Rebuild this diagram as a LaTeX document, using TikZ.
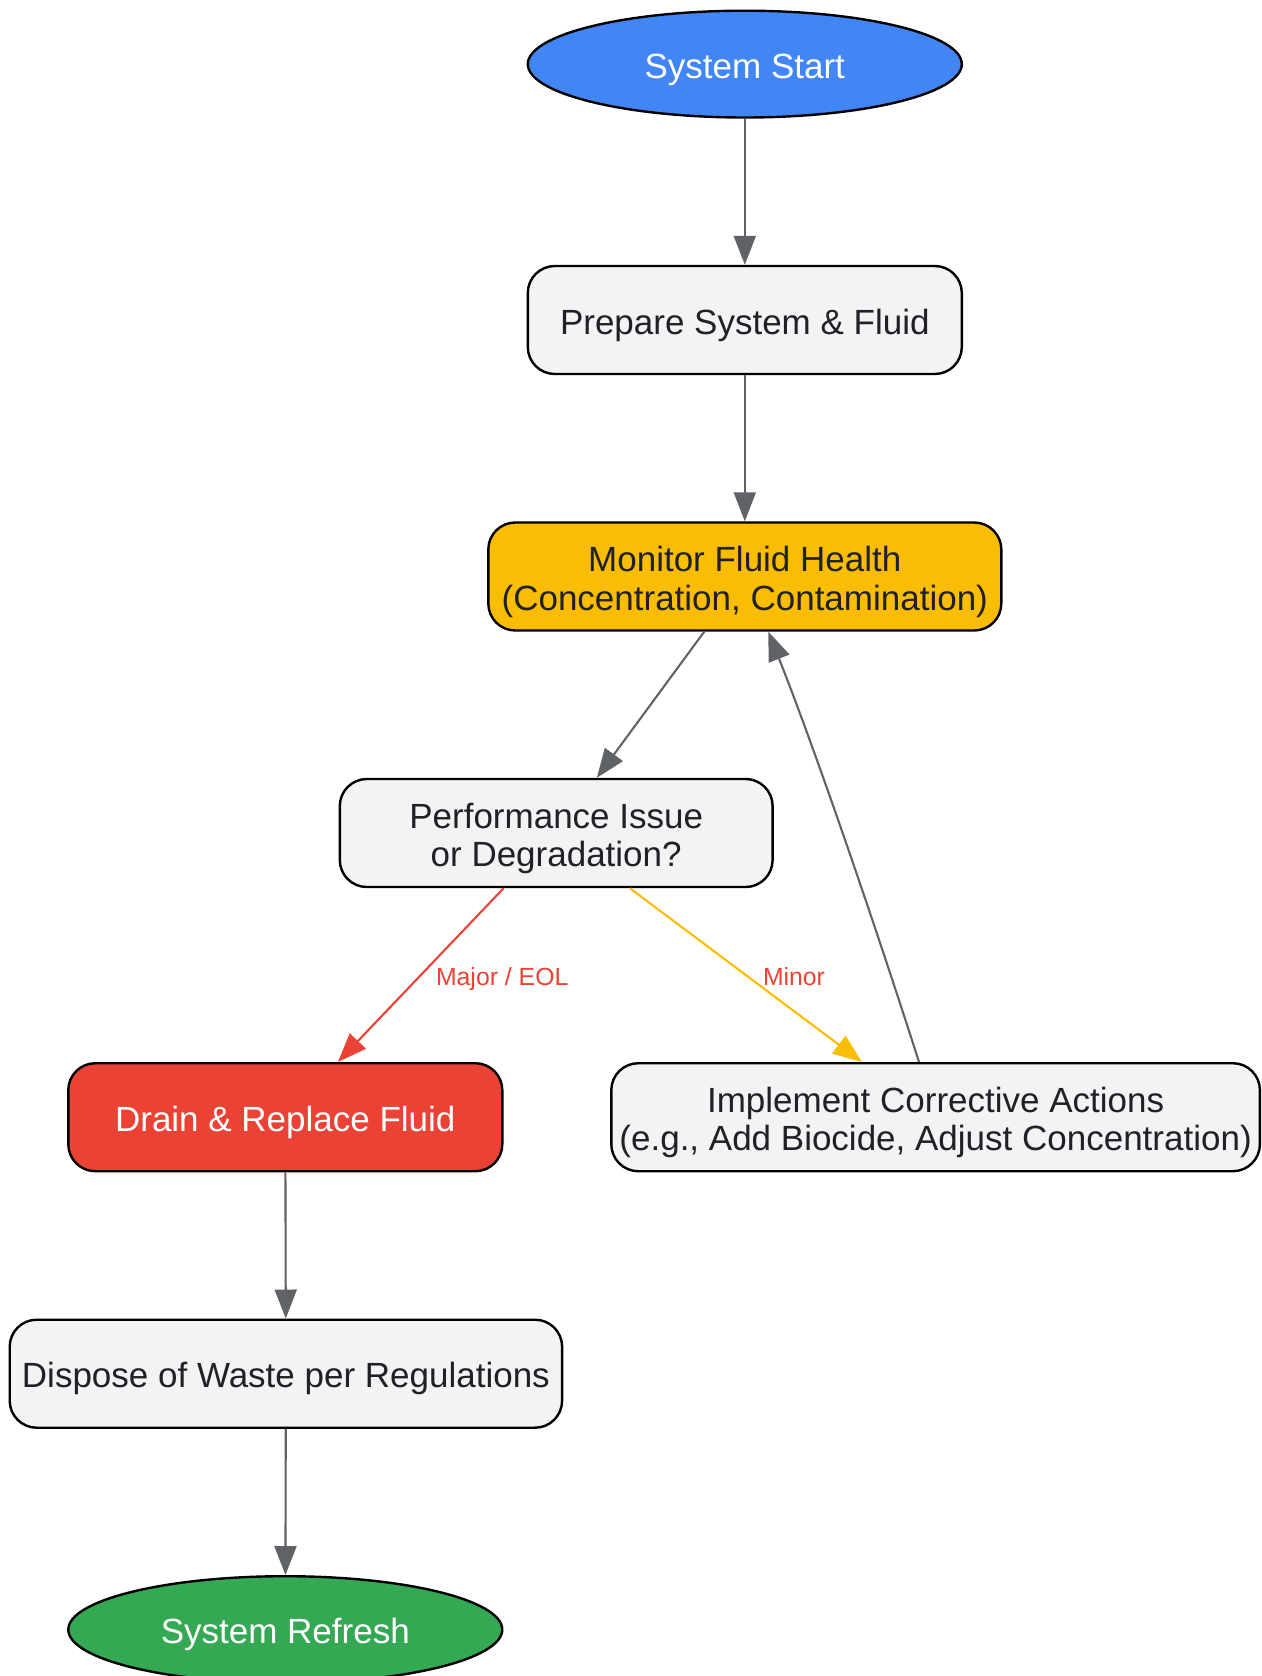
\documentclass[tikz,border=0pt]{standalone}
\usepackage{fontspec}
\setmainfont{Liberation Sans}
\usetikzlibrary{shapes.geometric,arrows.meta,calc}
\definecolor{gblue}{HTML}{4285F4}
\definecolor{gyellow}{HTML}{FBBC04}
\definecolor{gred}{HTML}{EA4335}
\definecolor{ggreen}{HTML}{34A853}
\definecolor{ggrey}{HTML}{F1F3F4}
\definecolor{gedge}{HTML}{5F6368}
\definecolor{gtext}{HTML}{202124}
\tikzset{
  base/.style={draw=black, line width=1.2pt, font=\fontsize{17.5}{19.3}\selectfont, align=center, inner sep=0pt,
    execute at begin node={\rule{0pt}{18pt}}, execute at end node={\rule[-4pt]{0pt}{4pt}}},
  twoline/.style={text height=36pt, text depth=2.4pt},
  term/.style={base, ellipse, minimum width=217pt, minimum height=53.4pt, text=white},
  procbox/.style={base, rectangle, rounded corners=13.5pt, minimum height=54pt, fill=ggrey, text=gtext},
  tip/.style={-{Triangle[length=14.5pt,width=11pt,fill=#1]}},
  conn/.style={draw=gedge, line width=1.05pt, tip=gedge},
  elabel/.style={font=\fontsize{12.4}{14}\selectfont, text=gred, inner sep=0pt, text height=9pt, text depth=2.6pt}
}
\begin{document}
\begin{tikzpicture}[x=0.5pt,y=-0.5pt]
\useasboundingbox (0,0) rectangle (1262,1676);
\node[term, fill=gblue] (start) at (744.8,64.1) {System Start};
\node[procbox, minimum width=217pt] (prep) at (744.8,320) {Prepare System \& Fluid};
\node[procbox, twoline, minimum width=256.5pt, fill=gyellow] (mon) at (744.8,576.5) {Monitor Fluid Health\\(Concentration, Contamination)};
\node[procbox, twoline, minimum width=216.4pt] (perf) at (556.2,833) {Performance Issue\\or Degradation?};
\node[procbox, minimum width=217pt, fill=gred, text=white] (drain) at (285.3,1117.2) {Drain \& Replace Fluid};
\node[procbox, twoline, minimum width=324.3pt] (impl) at (935.6,1117.2) {Implement Corrective Actions\\(e.g., Add Biocide, Adjust Concentration)};
\node[procbox, minimum width=276.2pt] (disp) at (285.9,1373.7) {Dispose of Waste per Regulations};
\node[term, fill=ggreen] (refresh) at (285.3,1629.6) {System Refresh};

\draw[conn] (start) -- (prep);
\draw[conn] (prep) -- (mon);
\draw[conn] (mon) -- (perf);
\draw[conn, draw=gred, tip=gred] (perf) -- (drain);
\draw[conn, draw=gyellow, tip=gyellow] (perf) -- (impl);
\draw[conn] ($(impl.north)+(-16.6,0)$) .. controls (887,961.7) and (822.8,769.4) .. ($(mon.south)+(23.6,0)$);
\draw[conn] (drain) -- (disp);
\draw[conn] (disp) -- (refresh);

\node[elabel] (lmajor) at (502.2,979.5) {Major / EOL};
\node[elabel] (lminor) at (794,979.5) {Minor};
\end{tikzpicture}
\end{document}
